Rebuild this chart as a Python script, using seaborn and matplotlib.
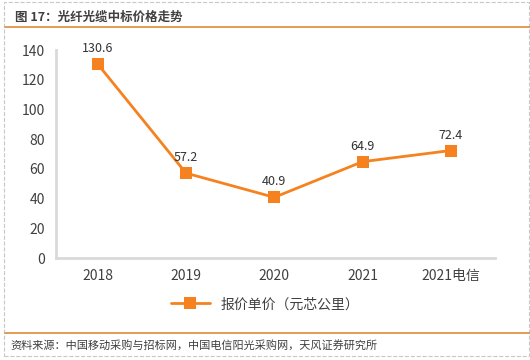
import matplotlib
matplotlib.use('Agg')
import matplotlib.pyplot as plt
import seaborn as sns
import pandas as pd
from matplotlib.lines import Line2D
from matplotlib.patches import Rectangle

years = ['2018', '2019', '2020', '2021', '2021电信']
prices = [130.6, 57.2, 40.9, 64.9, 72.4]
yticks = [0, 20, 40, 60, 80, 100, 120, 140]

sns.set_theme(style='white')
plt.rcParams['font.family'] = ['Noto Sans CJK SC', 'DejaVu Sans']

orange = '#f5821f'
df = pd.DataFrame({'year': years, 'price': prices})

fig = plt.figure(figsize=(5.3, 3.6), dpi=100)
ax = fig.add_axes([0.106, 0.283, 0.828, 0.578])
sns.lineplot(data=df, x='year', y='price', ax=ax, color=orange, linewidth=2,
             marker='s', markersize=8, markeredgewidth=0, sort=False)
for i, v in enumerate(prices):
    ax.text(i, v + 6, f'{v}', ha='center', va='bottom', fontsize=9, color='#333333')

ax.set_ylim(0, 140)
ax.set_yticks(yticks)
ax.set_xlim(-0.47, 4.5)
ax.set_xlabel('')
ax.set_ylabel('')
ax.tick_params(axis='both', length=0, labelsize=10, colors='#404040', pad=8)
for s in ['top', 'right']:
    ax.spines[s].set_visible(False)
for s in ['left', 'bottom']:
    ax.spines[s].set_color('#d9d9d9')
    ax.spines[s].set_linewidth(2)

handle = Line2D([0], [0], color=orange, linewidth=2, marker='s', markersize=8,
                markeredgewidth=0)
fig.legend([handle], ['报价单价（元芯公里）'], loc='center', bbox_to_anchor=(0.5, 0.155),
           frameon=False, fontsize=10, handlelength=2.8, labelcolor='#404040')

fig.text(0.028, 0.953, '图 17：光纤光缆中标价格走势', fontsize=9, fontweight='bold',
         color='#404040', va='center')
fig.add_artist(Line2D([0.01, 1.0], [0.925, 0.925], color='#e08a3a', linewidth=1.2))
fig.add_artist(Line2D([0.01, 1.0], [0.075, 0.075], color='#e08a3a', linewidth=1.2))
fig.text(0.02, 0.04, '资料来源：中国移动采购与招标网，中国电信阳光采购网，天风证券研究所',
         fontsize=8, color='#404040', va='center')
fig.add_artist(Rectangle((0.008, 0.01), 0.99, 0.985, fill=False, edgecolor='#c8c8c8',
                         linestyle='--', linewidth=0.8))

fig.savefig('out.png', dpi=100)
